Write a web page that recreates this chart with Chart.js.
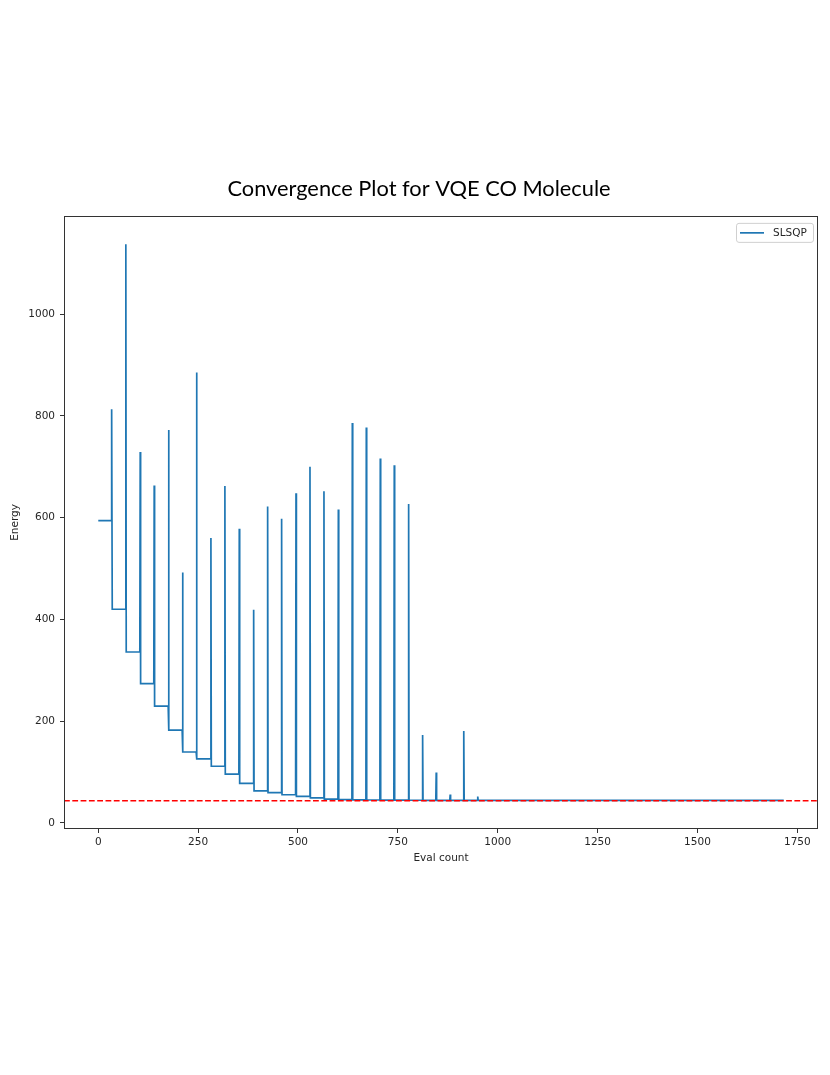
<!DOCTYPE html>
<html>
<head>
<meta charset="utf-8">
<script src="https://cdn.jsdelivr.net/npm/chart.js@4.4.1/dist/chart.umd.min.js"></script>
<style>
html,body{margin:0;padding:0;background:#fff;}
#wrap{width:830px;height:1075px;}
</style>
</head>
<body>
<div id="wrap"><canvas id="c" width="830" height="1075"></canvas></div>
<script>
// ---- data ----
const titleText = 'Convergence Plot for VQE CO Molecule';
const xLabel = 'Eval count';
const yLabel = 'Energy';
const seriesLabel = 'SLSQP';
const evalMax = 1716;
const xTicks = [0, 250, 500, 750, 1000, 1250, 1500, 1750];
const yTicks = [0, 200, 400, 600, 800, 1000];
// evals where a spike happens, and the energy reached
const spikeEval = [33, 34, 69, 105, 140, 176, 211, 246, 282, 317, 353, 389, 424, 459, 495, 530, 565, 601, 636, 671, 706, 741, 777, 812, 846, 881, 915, 950];
const spikeEnergy = [722, 813, 1137, 729, 663, 772, 492, 885, 560, 662, 578, 419, 622, 598, 648, 700, 652, 616, 786, 777, 716, 703, 627, 173, 99, 56, 181, 52];
// flat energy level before the first spike, then after each later spike
const levelEnergy = [594, 420, 336, 274, 229.5, 182.5, 139.5, 126, 111.5, 96, 78, 63, 59.5, 55.5, 52.5, 49.5, 47, 46, 45.5, 45.2, 45, 44.8, 44.7, 44.6, 44.5, 44.5, 44.4, 44.3];
const refEnergy = 43.9;

// ---- build the step series ----
const pts = [];
pts.push({x: 0, y: levelEnergy[0]}, {x: spikeEval[0] - 1, y: levelEnergy[0]});
pts.push({x: spikeEval[0], y: spikeEnergy[0]});
for (let k = 1; k < spikeEval.length; k++) {
  pts.push({x: spikeEval[k], y: spikeEnergy[k]});
  const end = k + 1 < spikeEval.length ? spikeEval[k + 1] - 1 : evalMax;
  pts.push({x: spikeEval[k] + 1, y: levelEnergy[k]}, {x: end, y: levelEnergy[k]});
}

const xMin = -85.8, xMax = 1801.8, yMin = -11.8, yMax = 1193;
const tickFont = {family: 'DejaVu Sans', size: 10.5};
const txt = '#262626';

const frameAndLegend = {
  id: 'frameAndLegend',
  afterDraw(chart) {
    const {ctx, chartArea: a} = chart;
    ctx.save();
    ctx.strokeStyle = '#333';
    ctx.lineWidth = 1;
    ctx.strokeRect(Math.round(a.left) + 0.5, Math.round(a.top) + 0.5, Math.round(a.right - a.left) - 1, Math.round(a.bottom - a.top) - 1);
    // legend
    const bx = a.right - 82, by = a.top + 7, bw = 77, bh = 19;
    ctx.beginPath();
    if (ctx.roundRect) ctx.roundRect(bx + 0.5, by + 0.5, bw, bh, 2.5); else ctx.rect(bx + 0.5, by + 0.5, bw, bh);
    ctx.fillStyle = 'rgba(255,255,255,0.8)';
    ctx.fill();
    ctx.strokeStyle = '#d0d0d0';
    ctx.stroke();
    const ly = by + bh / 2 + 0.5;
    ctx.beginPath();
    ctx.moveTo(bx + 4, ly);
    ctx.lineTo(bx + 28, ly);
    ctx.strokeStyle = '#1f77b4';
    ctx.lineWidth = 1.7;
    ctx.stroke();
    ctx.fillStyle = txt;
    ctx.font = '10.5px "DejaVu Sans"';
    ctx.textBaseline = 'middle';
    ctx.textAlign = 'left';
    ctx.fillText(seriesLabel, bx + 37, ly);
    ctx.restore();
  }
};

new Chart(document.getElementById('c'), {
  type: 'line',
  data: {
    datasets: [
      {
        label: 'reference',
        data: [{x: xMin, y: refEnergy}, {x: xMax, y: refEnergy}],
        borderColor: '#ff0000',
        borderWidth: 1.5,
        borderDash: [5.8, 2.5],
        pointRadius: 0,
        order: 0
      },
      {
        label: seriesLabel,
        data: pts,
        borderColor: '#1f77b4',
        borderWidth: 1.7,
        pointRadius: 0,
        tension: 0,
        order: 1
      }
    ]
  },
  options: {
    responsive: false,
    animation: false,
    devicePixelRatio: 1,
    layout: {padding: {left: 20, right: 12, top: 175.8, bottom: 0}},
    plugins: {
      legend: {display: false},
      tooltip: {enabled: false},
      title: {
        display: true,
        text: titleText,
        color: '#000',
        font: {family: 'Lato', size: 21.8, weight: 'normal', lineHeight: 1.2},
        padding: {top: 0, bottom: 13.9}
      }
    },
    scales: {
      x: {
        type: 'linear',
        min: xMin, max: xMax,
        border: {display: false},
        grid: {drawOnChartArea: false, drawTicks: true, tickLength: 4, color: '#333'},
        ticks: {stepSize: 250, includeBounds: false, color: txt, font: tickFont, padding: 3, maxRotation: 0,
                callback: v => String(v)},
        afterBuildTicks: s => { s.ticks = xTicks.map(v => ({value: v})); },
        afterFit: s => { s.height = 246; },
        title: {display: true, text: xLabel, color: txt, font: tickFont, padding: {top: 0, bottom: 210.7}}
      },
      y: {
        type: 'linear',
        min: yMin, max: yMax,
        border: {display: false},
        grid: {drawOnChartArea: false, drawTicks: true, tickLength: 4, color: '#333'},
        ticks: {stepSize: 200, includeBounds: false, color: txt, font: tickFont, padding: 5,
                callback: v => String(v)},
        afterBuildTicks: s => { s.ticks = yTicks.map(v => ({value: v})); },
        afterFit: s => { s.width = 44; },
        title: {display: true, text: yLabel, color: txt, font: tickFont, padding: {top: -10.6, bottom: 0}}
      }
    }
  },
  plugins: [frameAndLegend]
});
</script>
</body>
</html>
